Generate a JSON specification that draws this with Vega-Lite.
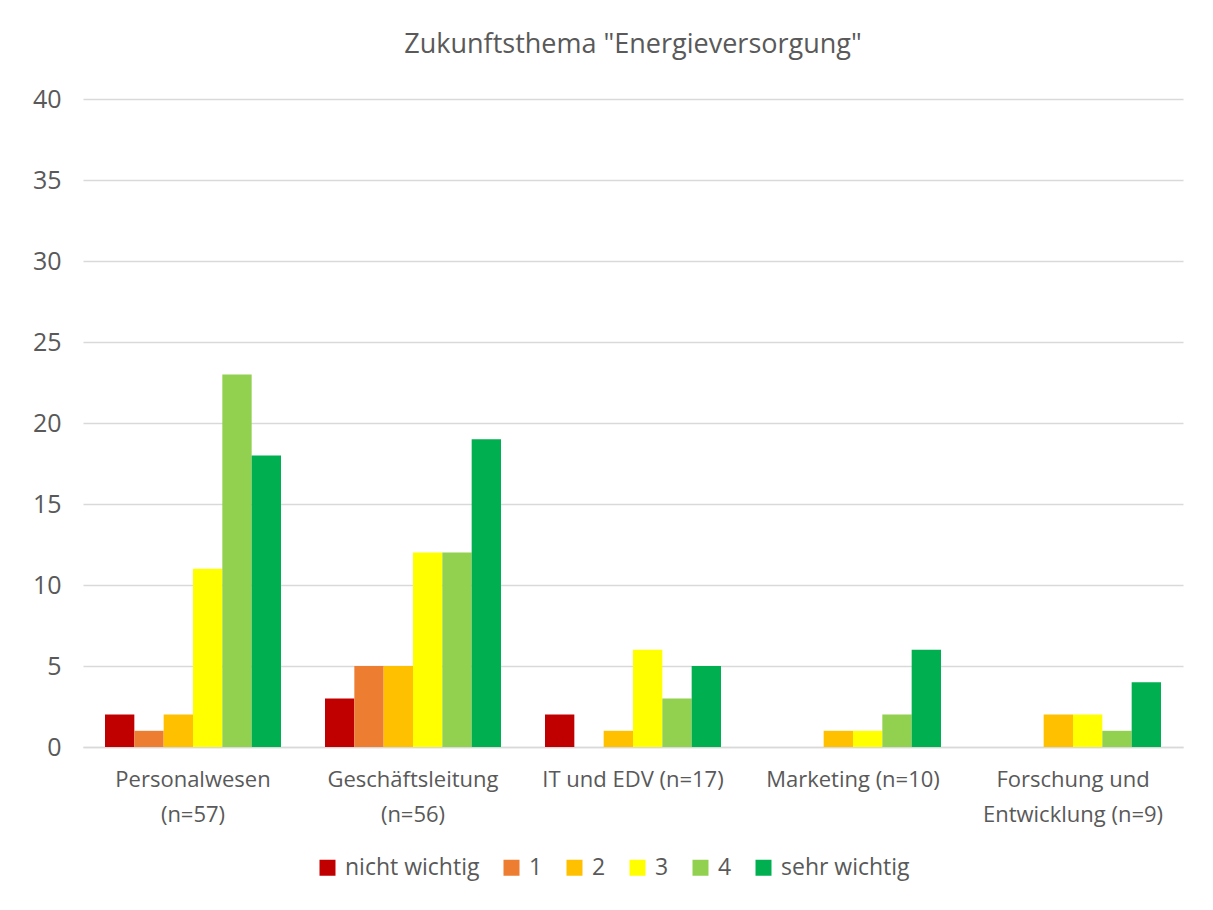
{
  "$schema": "https://vega.github.io/schema/vega-lite/v6.json",
  "autosize": {"type": "none"},
  "width": 1100,
  "height": 648,
  "padding": {"left": 83, "top": 99, "right": 30, "bottom": 163},
  "background": "white",
  "title": {
    "text": "Zukunftsthema \"Energieversorgung\"",
    "anchor": "middle",
    "frame": "group",
    "fontSize": 27,
    "fontWeight": "normal",
    "font": "Open Sans",
    "color": "#595959",
    "offset": 28
  },
  "data": {
    "values": [
      {"bereich": "Personalwesen|(n=57)", "bewertung": "nicht wichtig", "anzahl": 2},
      {"bereich": "Personalwesen|(n=57)", "bewertung": "1", "anzahl": 1},
      {"bereich": "Personalwesen|(n=57)", "bewertung": "2", "anzahl": 2},
      {"bereich": "Personalwesen|(n=57)", "bewertung": "3", "anzahl": 11},
      {"bereich": "Personalwesen|(n=57)", "bewertung": "4", "anzahl": 23},
      {"bereich": "Personalwesen|(n=57)", "bewertung": "sehr wichtig", "anzahl": 18},
      {"bereich": "Geschäftsleitung|(n=56)", "bewertung": "nicht wichtig", "anzahl": 3},
      {"bereich": "Geschäftsleitung|(n=56)", "bewertung": "1", "anzahl": 5},
      {"bereich": "Geschäftsleitung|(n=56)", "bewertung": "2", "anzahl": 5},
      {"bereich": "Geschäftsleitung|(n=56)", "bewertung": "3", "anzahl": 12},
      {"bereich": "Geschäftsleitung|(n=56)", "bewertung": "4", "anzahl": 12},
      {"bereich": "Geschäftsleitung|(n=56)", "bewertung": "sehr wichtig", "anzahl": 19},
      {"bereich": "IT und EDV (n=17)", "bewertung": "nicht wichtig", "anzahl": 2},
      {"bereich": "IT und EDV (n=17)", "bewertung": "1", "anzahl": 0},
      {"bereich": "IT und EDV (n=17)", "bewertung": "2", "anzahl": 1},
      {"bereich": "IT und EDV (n=17)", "bewertung": "3", "anzahl": 6},
      {"bereich": "IT und EDV (n=17)", "bewertung": "4", "anzahl": 3},
      {"bereich": "IT und EDV (n=17)", "bewertung": "sehr wichtig", "anzahl": 5},
      {"bereich": "Marketing (n=10)", "bewertung": "nicht wichtig", "anzahl": 0},
      {"bereich": "Marketing (n=10)", "bewertung": "1", "anzahl": 0},
      {"bereich": "Marketing (n=10)", "bewertung": "2", "anzahl": 1},
      {"bereich": "Marketing (n=10)", "bewertung": "3", "anzahl": 1},
      {"bereich": "Marketing (n=10)", "bewertung": "4", "anzahl": 2},
      {"bereich": "Marketing (n=10)", "bewertung": "sehr wichtig", "anzahl": 6},
      {"bereich": "Forschung und|Entwicklung (n=9)", "bewertung": "nicht wichtig", "anzahl": 0},
      {"bereich": "Forschung und|Entwicklung (n=9)", "bewertung": "1", "anzahl": 0},
      {"bereich": "Forschung und|Entwicklung (n=9)", "bewertung": "2", "anzahl": 2},
      {"bereich": "Forschung und|Entwicklung (n=9)", "bewertung": "3", "anzahl": 2},
      {"bereich": "Forschung und|Entwicklung (n=9)", "bewertung": "4", "anzahl": 1},
      {"bereich": "Forschung und|Entwicklung (n=9)", "bewertung": "sehr wichtig", "anzahl": 4}
    ]
  },
  "mark": {"type": "bar"},
  "encoding": {
    "x": {
      "field": "bereich",
      "type": "nominal",
      "sort": ["Personalwesen|(n=57)", "Geschäftsleitung|(n=56)", "IT und EDV (n=17)", "Marketing (n=10)", "Forschung und|Entwicklung (n=9)"],
      "scale": {"paddingInner": 0.2, "paddingOuter": 0.1},
      "axis": {
        "title": null,
        "labelAngle": 0,
        "labelExpr": "split(datum.label, '|')",
        "labelFont": "Open Sans",
        "labelFontSize": 22,
        "labelColor": "#595959",
        "labelLineHeight": 35,
        "labelPadding": 22,
        "ticks": false,
        "domainColor": "#d9d9d9",
        "domainWidth": 1.5,
        "labelLimit": 300
      }
    },
    "xOffset": {
      "field": "bewertung",
      "type": "nominal",
      "sort": ["nicht wichtig", "1", "2", "3", "4", "sehr wichtig"],
      "scale": {"paddingInner": 0, "paddingOuter": 0}
    },
    "y": {
      "field": "anzahl",
      "type": "quantitative",
      "scale": {"domain": [0, 40], "nice": false},
      "axis": {
        "title": null,
        "values": [0, 5, 10, 15, 20, 25, 30, 35, 40],
        "domain": false,
        "ticks": false,
        "gridColor": "#d9d9d9",
        "gridWidth": 1.5,
        "labelFont": "Open Sans",
        "labelFontSize": 25,
        "labelColor": "#595959",
        "labelPadding": 22
      }
    },
    "color": {
      "field": "bewertung",
      "type": "nominal",
      "sort": ["nicht wichtig", "1", "2", "3", "4", "sehr wichtig"],
      "scale": {
        "domain": ["nicht wichtig", "1", "2", "3", "4", "sehr wichtig"],
        "range": ["#C00000", "#ED7D31", "#FFC000", "#FFFF00", "#92D050", "#00B050"]
      },
      "legend": {
        "title": null,
        "orient": "none",
        "direction": "horizontal",
        "legendX": 233,
        "legendY": 757,
        "symbolType": "square",
        "symbolSize": 256,
        "symbolStrokeWidth": 0,
        "labelFont": "Open Sans",
        "labelFontSize": 23,
        "labelColor": "#595959",
        "labelOffset": 6,
        "columnPadding": 20
      }
    }
  },
  "config": {
    "view": {"stroke": null}
  }
}
